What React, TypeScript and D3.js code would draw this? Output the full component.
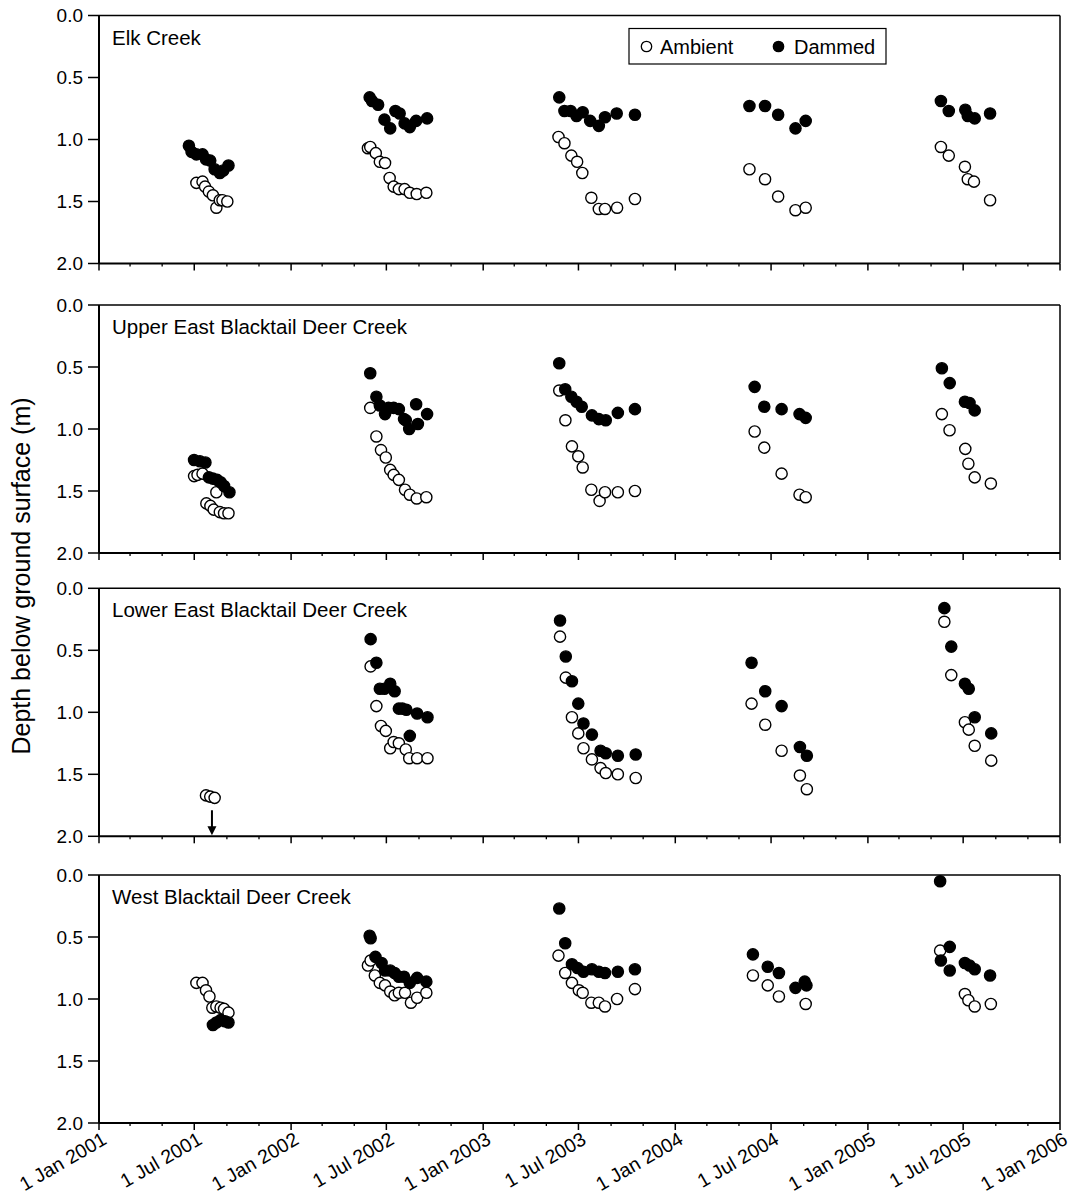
import React from "react";
import * as d3 from "d3";

type Pt = [number, number];

// decimal year, depth below ground surface (m)
const elkAmbient: Pt[] = [
  [2001.507,1.35],[2001.539,1.34],[2001.552,1.38],[2001.572,1.42],[2001.593,1.45],[2001.611,1.55],[2001.629,1.49],[2001.643,1.49],[2001.668,1.50],
  [2002.400,1.07],[2002.412,1.06],[2002.441,1.11],[2002.462,1.18],[2002.489,1.19],[2002.513,1.31],[2002.534,1.38],[2002.561,1.40],[2002.591,1.40],[2002.618,1.43],[2002.654,1.44],[2002.704,1.43],
  [2003.392,0.98],[2003.423,1.03],[2003.459,1.13],[2003.489,1.18],[2003.516,1.27],[2003.563,1.47],[2003.602,1.56],[2003.634,1.56],[2003.697,1.55],[2003.790,1.48],
  [2004.385,1.24],[2004.466,1.32],[2004.534,1.46],[2004.624,1.57],[2004.677,1.55],
  [2005.380,1.06],[2005.421,1.13],[2005.505,1.22],[2005.520,1.32],[2005.552,1.34],[2005.636,1.49],
];
const elkDammed: Pt[] = [
  [2001.468,1.05],[2001.482,1.10],[2001.507,1.12],[2001.539,1.12],[2001.557,1.16],[2001.579,1.17],[2001.602,1.24],[2001.629,1.27],[2001.647,1.25],[2001.674,1.21],
  [2002.409,0.66],[2002.421,0.69],[2002.453,0.72],[2002.486,0.84],[2002.516,0.91],[2002.543,0.77],[2002.565,0.79],[2002.591,0.87],[2002.618,0.90],[2002.651,0.85],[2002.708,0.83],
  [2003.396,0.66],[2003.423,0.77],[2003.455,0.77],[2003.486,0.81],[2003.518,0.78],[2003.557,0.85],[2003.602,0.89],[2003.634,0.82],[2003.695,0.79],[2003.790,0.80],
  [2004.385,0.73],[2004.466,0.73],[2004.534,0.80],[2004.624,0.91],[2004.677,0.85],
  [2005.380,0.69],[2005.421,0.77],[2005.507,0.76],[2005.520,0.81],[2005.556,0.83],[2005.636,0.79],
];
const upperAmbient: Pt[] = [
  [2001.495,1.38],[2001.513,1.37],[2001.539,1.36],[2001.559,1.60],[2001.580,1.62],[2001.597,1.65],[2001.611,1.51],[2001.629,1.67],[2001.651,1.68],[2001.674,1.68],
  [2002.412,0.83],[2002.444,1.06],[2002.468,1.17],[2002.493,1.23],[2002.516,1.33],[2002.534,1.37],[2002.561,1.41],[2002.593,1.49],[2002.618,1.53],[2002.654,1.56],[2002.704,1.55],
  [2003.396,0.69],[2003.428,0.93],[2003.462,1.14],[2003.495,1.22],[2003.518,1.31],[2003.563,1.49],[2003.606,1.58],[2003.634,1.51],[2003.701,1.51],[2003.790,1.50],
  [2004.412,1.02],[2004.462,1.15],[2004.552,1.36],[2004.645,1.53],[2004.677,1.55],
  [2005.385,0.88],[2005.425,1.01],[2005.507,1.16],[2005.523,1.28],[2005.556,1.39],[2005.640,1.44],
];
const upperDammed: Pt[] = [
  [2001.495,1.25],[2001.525,1.26],[2001.554,1.27],[2001.572,1.39],[2001.593,1.40],[2001.615,1.41],[2001.633,1.43],[2001.651,1.46],[2001.679,1.51],
  [2002.412,0.55],[2002.444,0.74],[2002.462,0.81],[2002.489,0.88],[2002.507,0.83],[2002.534,0.83],[2002.561,0.84],[2002.588,0.92],[2002.597,0.93],[2002.615,1.00],[2002.651,0.80],[2002.660,0.96],[2002.708,0.88],
  [2003.396,0.47],[2003.427,0.68],[2003.459,0.74],[2003.486,0.78],[2003.513,0.82],[2003.566,0.89],[2003.602,0.92],[2003.638,0.93],[2003.701,0.87],[2003.790,0.84],
  [2004.412,0.66],[2004.462,0.82],[2004.552,0.84],[2004.645,0.88],[2004.677,0.91],
  [2005.385,0.51],[2005.426,0.63],[2005.505,0.78],[2005.529,0.79],[2005.556,0.85],
];
const lowerAmbient: Pt[] = [
  [2001.557,1.67],[2001.579,1.68],[2001.602,1.69],
  [2002.414,0.63],[2002.444,0.95],[2002.468,1.11],[2002.493,1.15],[2002.516,1.29],[2002.534,1.24],[2002.561,1.25],[2002.597,1.30],[2002.615,1.37],[2002.656,1.37],[2002.710,1.37],
  [2003.400,0.39],[2003.430,0.72],[2003.462,1.04],[2003.495,1.17],[2003.522,1.29],[2003.566,1.38],[2003.611,1.45],[2003.638,1.49],[2003.701,1.50],[2003.794,1.53],
  [2004.396,0.93],[2004.467,1.10],[2004.552,1.31],[2004.647,1.51],[2004.683,1.62],
  [2005.398,0.27],[2005.434,0.70],[2005.505,1.08],[2005.525,1.14],[2005.556,1.27],[2005.642,1.39],
];
const lowerDammed: Pt[] = [
  [2002.414,0.41],[2002.444,0.60],[2002.462,0.81],[2002.486,0.81],[2002.516,0.77],[2002.539,0.83],[2002.561,0.97],[2002.579,0.97],[2002.600,0.98],[2002.618,1.19],[2002.656,1.01],[2002.710,1.04],
  [2003.400,0.26],[2003.430,0.55],[2003.462,0.75],[2003.495,0.93],[2003.522,1.09],[2003.566,1.18],[2003.611,1.31],[2003.638,1.33],[2003.701,1.35],[2003.794,1.34],
  [2004.396,0.60],[2004.467,0.83],[2004.552,0.95],[2004.647,1.28],[2004.683,1.35],
  [2005.398,0.16],[2005.434,0.47],[2005.505,0.77],[2005.525,0.81],[2005.556,1.04],[2005.642,1.17],
];
const westAmbient: Pt[] = [
  [2001.507,0.87],[2001.539,0.87],[2001.557,0.93],[2001.575,0.98],[2001.590,1.07],[2001.611,1.06],[2001.633,1.07],[2001.651,1.08],[2001.674,1.11],
  [2002.400,0.73],[2002.414,0.69],[2002.436,0.81],[2002.462,0.87],[2002.489,0.89],[2002.516,0.94],[2002.539,0.97],[2002.561,0.95],[2002.593,0.95],[2002.624,1.03],[2002.656,0.99],[2002.704,0.95],
  [2003.392,0.65],[2003.427,0.79],[2003.462,0.87],[2003.498,0.93],[2003.518,0.95],[2003.563,1.03],[2003.602,1.03],[2003.634,1.06],[2003.697,1.00],[2003.790,0.92],
  [2004.403,0.81],[2004.480,0.89],[2004.538,0.98],[2004.677,1.04],
  [2005.376,0.61],[2005.505,0.96],[2005.523,1.01],[2005.556,1.06],[2005.640,1.04],
];
const westDammed: Pt[] = [
  [2001.593,1.21],[2001.611,1.19],[2001.633,1.17],[2001.656,1.18],[2001.674,1.19],
  [2002.409,0.49],[2002.414,0.51],[2002.439,0.66],[2002.471,0.71],[2002.489,0.77],[2002.516,0.77],[2002.539,0.79],[2002.561,0.82],[2002.588,0.82],[2002.618,0.87],[2002.656,0.83],[2002.704,0.86],
  [2003.396,0.27],[2003.427,0.55],[2003.462,0.72],[2003.491,0.75],[2003.522,0.78],[2003.566,0.76],[2003.602,0.78],[2003.634,0.79],[2003.701,0.78],[2003.790,0.76],
  [2004.403,0.64],[2004.480,0.74],[2004.538,0.79],[2004.624,0.91],[2004.672,0.86],[2004.681,0.89],
  [2005.376,0.05],[2005.380,0.69],[2005.426,0.58],[2005.426,0.77],[2005.505,0.71],[2005.529,0.73],[2005.556,0.76],[2005.636,0.81],
];

const panelTitles = ["Elk Creek", "Upper East Blacktail Deer Creek", "Lower East Blacktail Deer Creek", "West Blacktail Deer Creek"];
const panelAmbient = [elkAmbient, upperAmbient, lowerAmbient, westAmbient];
const panelDammed = [elkDammed, upperDammed, lowerDammed, westDammed];
const yTicks = [0, 0.5, 1.0, 1.5, 2.0];
const legendLabels = ["Ambient", "Dammed"];
const yTitle = "Depth below ground surface (m)";
// arrow annotation in Lower East panel: [decimal year, from depth, to depth]
const lowerArrow: [number, number, number] = [2001.588, 1.79, 2.0];

const FONT = "'Liberation Sans', Arial, Helvetica, sans-serif";
const W = 1070, H = 1197;
const X0 = 99, X1 = 1060;
const panelTops = [15.5, 305, 588.3, 875];
const PH = 248;
const R = 5.6;

function decToDate(y: number): Date {
  const yr = Math.floor(y);
  const s = Date.UTC(yr, 0, 1), e = Date.UTC(yr + 1, 0, 1);
  return new Date(s + (y - yr) * (e - s));
}

const x = d3.scaleUtc().domain([new Date(Date.UTC(2001, 0, 1)), new Date(Date.UTC(2006, 0, 1))]).range([X0, X1]);
const majorTicks = d3.utcMonth.every(6)!.range(new Date(Date.UTC(2001, 0, 1)), new Date(Date.UTC(2006, 0, 2)));
const minorTicks = d3.utcMonth.every(2)!.range(new Date(Date.UTC(2001, 0, 1)), new Date(Date.UTC(2006, 0, 2)))
  .filter((d) => d.getUTCMonth() % 6 !== 0);
const fmt = d3.utcFormat("%-d %b %Y");

function Panel({ i }: { i: number }) {
  const top = panelTops[i];
  const y = d3.scaleLinear().domain([0, 2]).range([top, top + PH]);
  const bottom = y(2);
  return (
    <g>
      {/* frame */}
      <line x1={X0} x2={X1} y1={top} y2={top} stroke="#000" strokeWidth={1.5} />
      <line x1={X1} x2={X1} y1={top} y2={bottom} stroke="#000" strokeWidth={1.5} />
      <line x1={X0} x2={X0} y1={top} y2={bottom} stroke="#000" strokeWidth={2} />
      <line x1={X0} x2={X1} y1={bottom} y2={bottom} stroke="#000" strokeWidth={2} />
      {/* y ticks */}
      {yTicks.map((t) => (
        <g key={t}>
          <line x1={X0 - 11} x2={X0} y1={y(t)} y2={y(t)} stroke="#000" strokeWidth={1.5} />
          <text x={X0 - 16} y={y(t)} dy="0.35em" textAnchor="end" fontSize={19} fontFamily={FONT}>
            {d3.format(".1f")(t)}
          </text>
        </g>
      ))}
      {/* x ticks */}
      {majorTicks.map((d, k) => (
        <line key={"M" + k} x1={x(d)} x2={x(d)} y1={bottom} y2={bottom + 7} stroke="#000" strokeWidth={1.5} />
      ))}
      {minorTicks.map((d, k) => (
        <line key={"m" + k} x1={x(d)} x2={x(d)} y1={bottom} y2={bottom + 3} stroke="#000" strokeWidth={1.3} />
      ))}
      <text x={112} y={top + 29} fontSize={20.5} fontFamily={FONT}>{panelTitles[i]}</text>
      {/* data */}
      {panelAmbient[i].map((p, k) => (
        <circle key={"a" + k} cx={x(decToDate(p[0]))} cy={y(p[1])} r={R} fill="#fff" stroke="#000" strokeWidth={1.4} />
      ))}
      {panelDammed[i].map((p, k) => (
        <circle key={"d" + k} cx={x(decToDate(p[0]))} cy={y(p[1])} r={R} fill="#000" stroke="#000" strokeWidth={1.4} />
      ))}
      {i === 2 && (() => {
        const ax = x(decToDate(lowerArrow[0]));
        const ay1 = y(lowerArrow[1]);
        const ay2 = y(lowerArrow[2]) - 1;
        return (
          <g>
            <line x1={ax} x2={ax} y1={ay1} y2={ay2 - 7} stroke="#000" strokeWidth={2} />
            <path d={`M${ax - 4.5},${ay2 - 9} L${ax + 4.5},${ay2 - 9} L${ax},${ay2} Z`} fill="#000" />
          </g>
        );
      })()}
    </g>
  );
}

export default function App() {
  return (
    <svg width={W} height={H} style={{ position: "absolute", left: 0, top: 0, background: "#fff" }}>
      <rect x={0} y={0} width={W} height={H} fill="#fff" />
      {panelTitles.map((_, i) => <Panel key={i} i={i} />)}
      {/* bottom date labels */}
      {majorTicks.map((d, k) => (
        <text key={k} transform={`translate(${x(d) + 2},${1131}) rotate(-30)`} textAnchor="end" dy="0.72em"
          fontSize={19.5} fontFamily={FONT}>{fmt(d)}</text>
      ))}
      {/* y title */}
      <text transform={`translate(30,576) rotate(-90)`} textAnchor="middle" fontSize={25} fontFamily={FONT}>{yTitle}</text>
      {/* legend */}
      <g>
        <rect x={629} y={28.5} width={257} height={35.5} fill="#fff" stroke="#000" strokeWidth={1.2} />
        <circle cx={646.5} cy={46.5} r={5.2} fill="#fff" stroke="#000" strokeWidth={1.3} />
        <text x={660} y={46.5} dy="0.36em" fontSize={20} fontFamily={FONT}>{legendLabels[0]}</text>
        <circle cx={778.5} cy={46.5} r={5.2} fill="#000" stroke="#000" strokeWidth={1.3} />
        <text x={794} y={46.5} dy="0.36em" fontSize={20} fontFamily={FONT}>{legendLabels[1]}</text>
      </g>
    </svg>
  );
}
